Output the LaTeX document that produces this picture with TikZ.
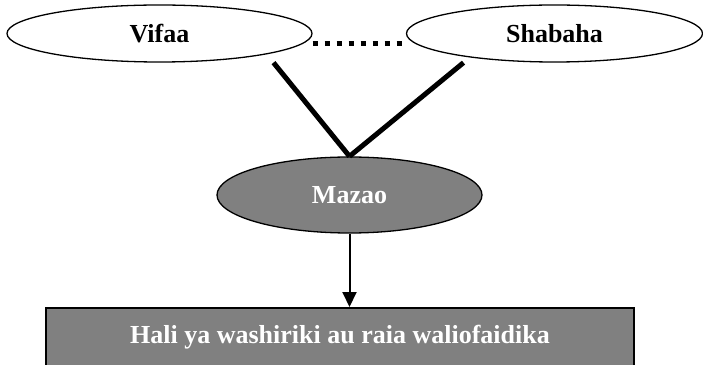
\documentclass[tikz,border=0pt]{standalone}
\usepackage{fontspec}
\setmainfont{Liberation Serif}
\usetikzlibrary{arrows.meta,shapes.geometric}

\begin{document}
\begin{tikzpicture}[x=1pt, y=1pt]
        \tikzstyle{every node}=[font=\fontsize{26}{30}\selectfont\bfseries, inner sep=0pt]
        \tikzstyle{oval}=[ellipse, draw, line width=1.3pt, minimum height=57pt]
        \tikzstyle{darkoval}=[ellipse, draw, line width=1.3pt, fill=black!50, text=white, minimum width=265pt, minimum height=76pt]
        \tikzstyle{darkbox}=[rectangle, draw, line width=2pt, fill=black!50, text=white, minimum width=588pt, minimum height=59pt]
        \tikzstyle{thick link}=[line width=5pt]
        \useasboundingbox (0,0) rectangle (703,364);
        \node [oval, minimum width=305pt] (vifaa) at (159.5,330.5) {Vifaa};
        \node [oval, minimum width=296pt] (shabaha) at (554.5,330.5) {Shabaha};
        \node [darkoval] (mazao) at (349.5,169) {Mazao};
        \node [darkbox] (hali) at (340,26.5) {Hali ya washiriki au raia waliofaidika};
        \draw [line width=5pt, dash pattern=on 5pt off 7pt] ([yshift=-10pt]vifaa.east) -- ([yshift=-10pt]shabaha.west);
        \draw [thick link] ([xshift=114pt]vifaa.south) -- (mazao.north);
        \draw [thick link] ([xshift=-91pt]shabaha.south) -- (mazao.north);
        \draw [line width=2pt, -{Triangle[width=14pt, length=15pt]}] (mazao.south) -- (mazao.south |- hali.north);
    \end{tikzpicture}
\end{document}
